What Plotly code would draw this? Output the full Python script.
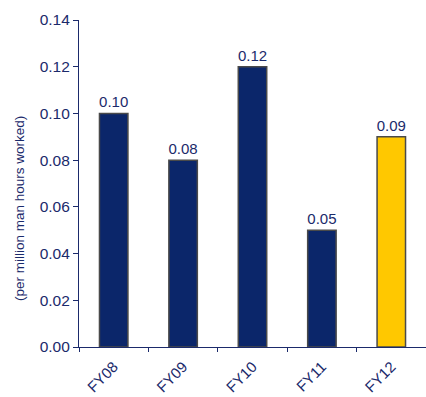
import plotly.graph_objects as go

categories = ["FY08", "FY09", "FY10", "FY11", "FY12"]
values = [0.10, 0.08, 0.12, 0.05, 0.09]
labels = ["0.10", "0.08", "0.12", "0.05", "0.09"]
colors = ["#0B266A", "#0B266A", "#0B266A", "#0B266A", "#FFC800"]
y_ticks = [0.00, 0.02, 0.04, 0.06, 0.08, 0.10, 0.12, 0.14]
y_tick_text = ["0.00", "0.02", "0.04", "0.06", "0.08", "0.10", "0.12", "0.14"]
y_title = "(per million man hours worked)"

navy = "#1B2A6B"
font_family = "Liberation Sans, Arial, sans-serif"

fig = go.Figure()
fig.add_trace(go.Bar(
    x=categories, y=values,
    text=labels, textposition="outside", constraintext="none",
    textfont=dict(color=navy, size=15, family=font_family),
    marker=dict(color=colors, line=dict(color="#4A4A4A", width=1.5)),
    width=0.41, cliponaxis=False,
))

fig.add_annotation(
    text=y_title, textangle=-90, showarrow=False,
    xref="paper", yref="paper", x=-0.173, y=0.425,
    xanchor="center", yanchor="middle",
    font=dict(size=13.5, color=navy, family=font_family),
)

fig.update_layout(
    width=426, height=397,
    margin=dict(l=79, r=0, t=20, b=50),
    plot_bgcolor="white", paper_bgcolor="white",
    showlegend=False,
    font=dict(family=font_family, color=navy),
    xaxis=dict(
        showline=True, linecolor=navy, linewidth=1.2,
        ticks="outside", tickson="boundaries", ticklen=4, tickcolor=navy,
        tickangle=-45, tickfont=dict(size=15, color=navy),
        ticklabelstandoff=4,
        showgrid=False,
    ),
    yaxis=dict(
        range=[0, 0.14], tickvals=y_ticks, ticktext=y_tick_text,
        showline=True, linecolor=navy, linewidth=1.2,
        ticks="outside", ticklen=5, tickcolor=navy,
        tickfont=dict(size=15.5, color=navy),
        showgrid=False, zeroline=False,
    ),
)

fig.write_html("out.html")
